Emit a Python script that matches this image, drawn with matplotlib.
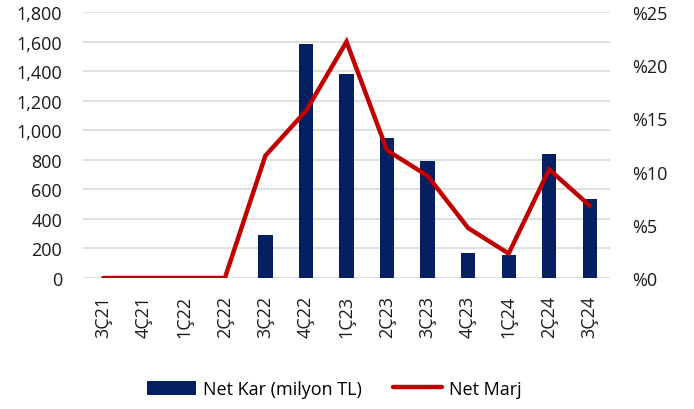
import numpy as np
import matplotlib.pyplot as plt

plt.rcParams['font.family'] = ['Open Sans', 'DejaVu Sans']

quarters = ["3Ç21", "4Ç21", "1Ç22", "2Ç22", "3Ç22", "4Ç22", "1Ç23",
            "2Ç23", "3Ç23", "4Ç23", "1Ç24", "2Ç24", "3Ç24"]
net_kar = [0, 0, 0, 0, 290, 1585, 1383, 945, 794, 167, 153, 837, 535]
net_marj = [0, 0, 0, 0, 11.5, 15.7, 22.2, 12.0, 9.6, 4.7, 2.3, 10.2, 6.8]

navy = "#042060"
red = "#C00000"

fig = plt.figure(figsize=(6.94, 4.10), dpi=100)
ax = fig.add_axes([83 / 694, 1 - 279 / 410, 527 / 694, 266 / 410])
ax2 = ax.twinx()

x = np.arange(len(quarters))
ax.bar(x, net_kar, width=0.35, color=navy, label="Net Kar (milyon TL)", zorder=2)
ax2.plot(x, net_marj, color=red, lw=3.2, label="Net Marj", zorder=3,
         solid_capstyle="round", solid_joinstyle="miter")

ax.set_xlim(-0.5, len(quarters) - 0.5)
ax.set_ylim(0, 1800)
ax.set_yticks(np.arange(0, 1801, 200))
ax.set_yticklabels([f"{v:,}" for v in range(0, 1801, 200)])
ax2.set_ylim(0, 25)
ax2.set_yticks(np.arange(0, 26, 5))
ax2.set_yticklabels([f"%{v}" for v in range(0, 26, 5)])

ax.yaxis.grid(True, color="#d9d9d9", lw=1.2, zorder=0)
ax.set_axisbelow(True)
for a in (ax, ax2):
    for s in a.spines.values():
        s.set_visible(False)
    a.tick_params(length=0, labelsize=13, colors="#1a1a1a")

ax.set_xticks(x)
ax.set_xticklabels(quarters, rotation=90)
ax.tick_params(axis="x", pad=12)
ax.tick_params(axis="y", pad=15)
ax2.tick_params(axis="y", pad=16)

h1, l1 = ax.get_legend_handles_labels()
h2, l2 = ax2.get_legend_handles_labels()
fig.legend(h1 + h2, l1 + l2, loc="center", bbox_to_anchor=(0.482, 1 - 390 / 410),
           ncol=2, frameon=False, fontsize=13, handlelength=2.7,
           handleheight=0.85, columnspacing=1.7, handletextpad=0.4)

fig.savefig("out.png", dpi=100)
